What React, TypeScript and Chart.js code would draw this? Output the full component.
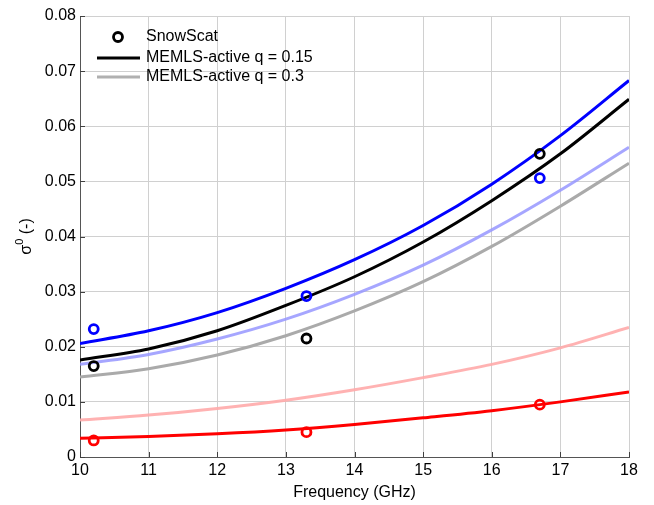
import React, { useEffect, useRef } from "react";
import { Chart, registerables } from "chart.js";

Chart.register(...registerables);

// ---- data ----
const freqGHz = [10, 11, 12, 13, 14, 15, 16, 17, 18];
const blueQ015 = [0.0206, 0.0229, 0.0262, 0.0306, 0.0358, 0.042, 0.0495, 0.0583, 0.0683];
const blueQ03 = [0.0168, 0.0186, 0.0214, 0.025, 0.0295, 0.0348, 0.0412, 0.0484, 0.0562];
const blackQ015 = [0.0176, 0.0196, 0.0229, 0.0275, 0.0327, 0.039, 0.0465, 0.055, 0.0649];
const blackQ03 = [0.0145, 0.016, 0.0185, 0.022, 0.0265, 0.0318, 0.0382, 0.0455, 0.0533];
const redQ015 = [0.0034, 0.0037, 0.0042, 0.0049, 0.0059, 0.0071, 0.0084, 0.01, 0.0118];
const redQ03 = [0.0067, 0.0076, 0.0088, 0.0103, 0.0122, 0.0144, 0.0168, 0.0198, 0.0235];

const obsFreq = [10.2, 13.3, 16.7];
const obsBlack = [0.0165, 0.0215, 0.055];
const obsBlue = [0.0232, 0.0292, 0.0506];
const obsRed = [0.003, 0.0045, 0.0095];

const yTicks = [0, 0.01, 0.02, 0.03, 0.04, 0.05, 0.06, 0.07, 0.08];
const xTicks = [10, 11, 12, 13, 14, 15, 16, 17, 18];

const legendLabels = ["SnowScat", "MEMLS-active q = 0.15", "MEMLS-active q = 0.3"];
const xTitle = "Frequency (GHz)";

const FONT = "'Liberation Sans', Arial, Helvetica, sans-serif";

const pts = (xs: number[], ys: number[]) => xs.map((x, i) => ({ x, y: ys[i] }));

export default function App() {
  const ref = useRef<HTMLCanvasElement | null>(null);

  useEffect(() => {
    if (!ref.current) return;

    const line = (data: number[], color: string) => ({
      type: "line" as const,
      data: pts(freqGHz, data),
      borderColor: color,
      backgroundColor: color,
      borderWidth: 3,
      pointRadius: 0,
      cubicInterpolationMode: "monotone" as const,
      fill: false,
      order: 2,
    });
    const scat = (ys: number[], color: string) => ({
      type: "scatter" as const,
      data: pts(obsFreq, ys),
      borderColor: color,
      backgroundColor: "rgba(0,0,0,0)",
      borderWidth: 2.8,
      pointRadius: 4.5,
      pointStyle: "circle",
      order: 0,
    });

    const overlay = {
      id: "overlay",
      afterDraw(chart: any) {
        const ctx = chart.ctx;
        const a = chart.chartArea;
        const xs = chart.scales.x;
        const ys = chart.scales.y;
        ctx.save();
        // inward ticks
        ctx.strokeStyle = "#404040";
        ctx.lineWidth = 1;
        ctx.beginPath();
        xTicks.forEach((t) => {
          const px = Math.round(xs.getPixelForValue(t)) + 0.5;
          ctx.moveTo(px, a.bottom);
          ctx.lineTo(px, a.bottom - 5);
        });
        yTicks.forEach((t) => {
          const py = Math.round(ys.getPixelForValue(t)) + 0.5;
          ctx.moveTo(a.left, py);
          ctx.lineTo(a.left + 5, py);
        });
        ctx.stroke();

        // legend
        ctx.fillStyle = "#000";
        ctx.font = `16px ${FONT}`;
        ctx.textBaseline = "middle";
        ctx.textAlign = "left";
        const lx0 = 97, lx1 = 140, tx = 146;
        const rows = [37, 58, 77];
        ctx.strokeStyle = "#000";
        ctx.lineWidth = 2.8;
        ctx.beginPath();
        ctx.arc(118, rows[0], 4.5, 0, Math.PI * 2);
        ctx.stroke();
        ctx.lineWidth = 3;
        ctx.strokeStyle = "#000";
        ctx.beginPath();
        ctx.moveTo(lx0, rows[1]);
        ctx.lineTo(lx1, rows[1]);
        ctx.stroke();
        ctx.strokeStyle = "#b0b0b0";
        ctx.beginPath();
        ctx.moveTo(lx0, rows[2]);
        ctx.lineTo(lx1, rows[2]);
        ctx.stroke();
        legendLabels.forEach((l, i) => ctx.fillText(l, tx, rows[i]));

        // x title
        ctx.textAlign = "center";
        ctx.textBaseline = "middle";
        ctx.font = `16px ${FONT}`;
        ctx.fillText(xTitle, (a.left + a.right) / 2, 493);

        // y title: sigma^0 (-)
        ctx.translate(25, (a.top + a.bottom) / 2);
        ctx.rotate(-Math.PI / 2);
        ctx.textAlign = "left";
        ctx.textBaseline = "alphabetic";
        const f1 = `16px ${FONT}`;
        const f2 = `11px ${FONT}`;
        ctx.font = f1;
        const wS = ctx.measureText("σ").width;
        const wP = ctx.measureText("(-)").width;
        const wSp = ctx.measureText(" ").width;
        ctx.font = f2;
        const w0 = ctx.measureText("0").width;
        const total = wS + w0 + wSp + wP;
        let x = -total / 2;
        const base = 6;
        ctx.font = f1;
        ctx.fillText("σ", x, base);
        x += wS;
        ctx.font = f2;
        ctx.fillText("0", x, base - 8);
        x += w0 + wSp;
        ctx.font = f1;
        ctx.fillText("(-)", x, base);
        ctx.restore();
      },
    };

    const chart = new Chart(ref.current, {
      data: {
        datasets: [
          scat(obsBlack, "#000000"),
          scat(obsBlue, "#0000ff"),
          scat(obsRed, "#ff0000"),
          line(blueQ015, "#0000ff"),
          line(blueQ03, "rgba(150,150,255,0.85)"),
          line(blackQ015, "#000000"),
          line(blackQ03, "#aaaaaa"),
          line(redQ015, "#ff0000"),
          line(redQ03, "rgba(255,170,170,0.9)"),
        ] as any,
      },
      options: {
        responsive: false,
        animation: false,
        devicePixelRatio: 1,
        layout: { padding: { top: 16, right: 25, left: 0, bottom: 0 } },
        plugins: { legend: { display: false }, tooltip: { enabled: false } },
        scales: {
          x: {
            type: "linear",
            min: 10,
            max: 18,
            afterFit: (s: any) => {
              s.height = 48;
            },
            afterBuildTicks: (s: any) => {
              s.ticks = xTicks.map((v) => ({ value: v }));
            },
            ticks: {
              color: "#000",
              font: { family: FONT, size: 16 },
              padding: 4,
              maxRotation: 0,
              callback: (v: any) => String(v),
            },
            grid: { color: "#d0d0d0", lineWidth: 1, drawTicks: false },
            border: { color: "#555555", width: 1 },
          },
          y: {
            type: "linear",
            min: 0,
            max: 0.08,
            afterFit: (s: any) => {
              s.width = 80;
            },
            afterBuildTicks: (s: any) => {
              s.ticks = yTicks.map((v) => ({ value: v }));
            },
            ticks: {
              color: "#000",
              font: { family: FONT, size: 16 },
              padding: 4,
              callback: (v: any) => (v === 0 ? "0" : Number(v).toFixed(2)),
            },
            grid: { color: "#d0d0d0", lineWidth: 1, drawTicks: false },
            border: { color: "#555555", width: 1 },
          },
        },
      },
      plugins: [overlay],
    });
    return () => chart.destroy();
  }, []);

  return (
    <div style={{ position: "fixed", left: 0, top: 0, width: 654, height: 505, background: "#fff" }}>
      <canvas ref={ref} width={654} height={505} style={{ display: "block" }} />
    </div>
  );
}
